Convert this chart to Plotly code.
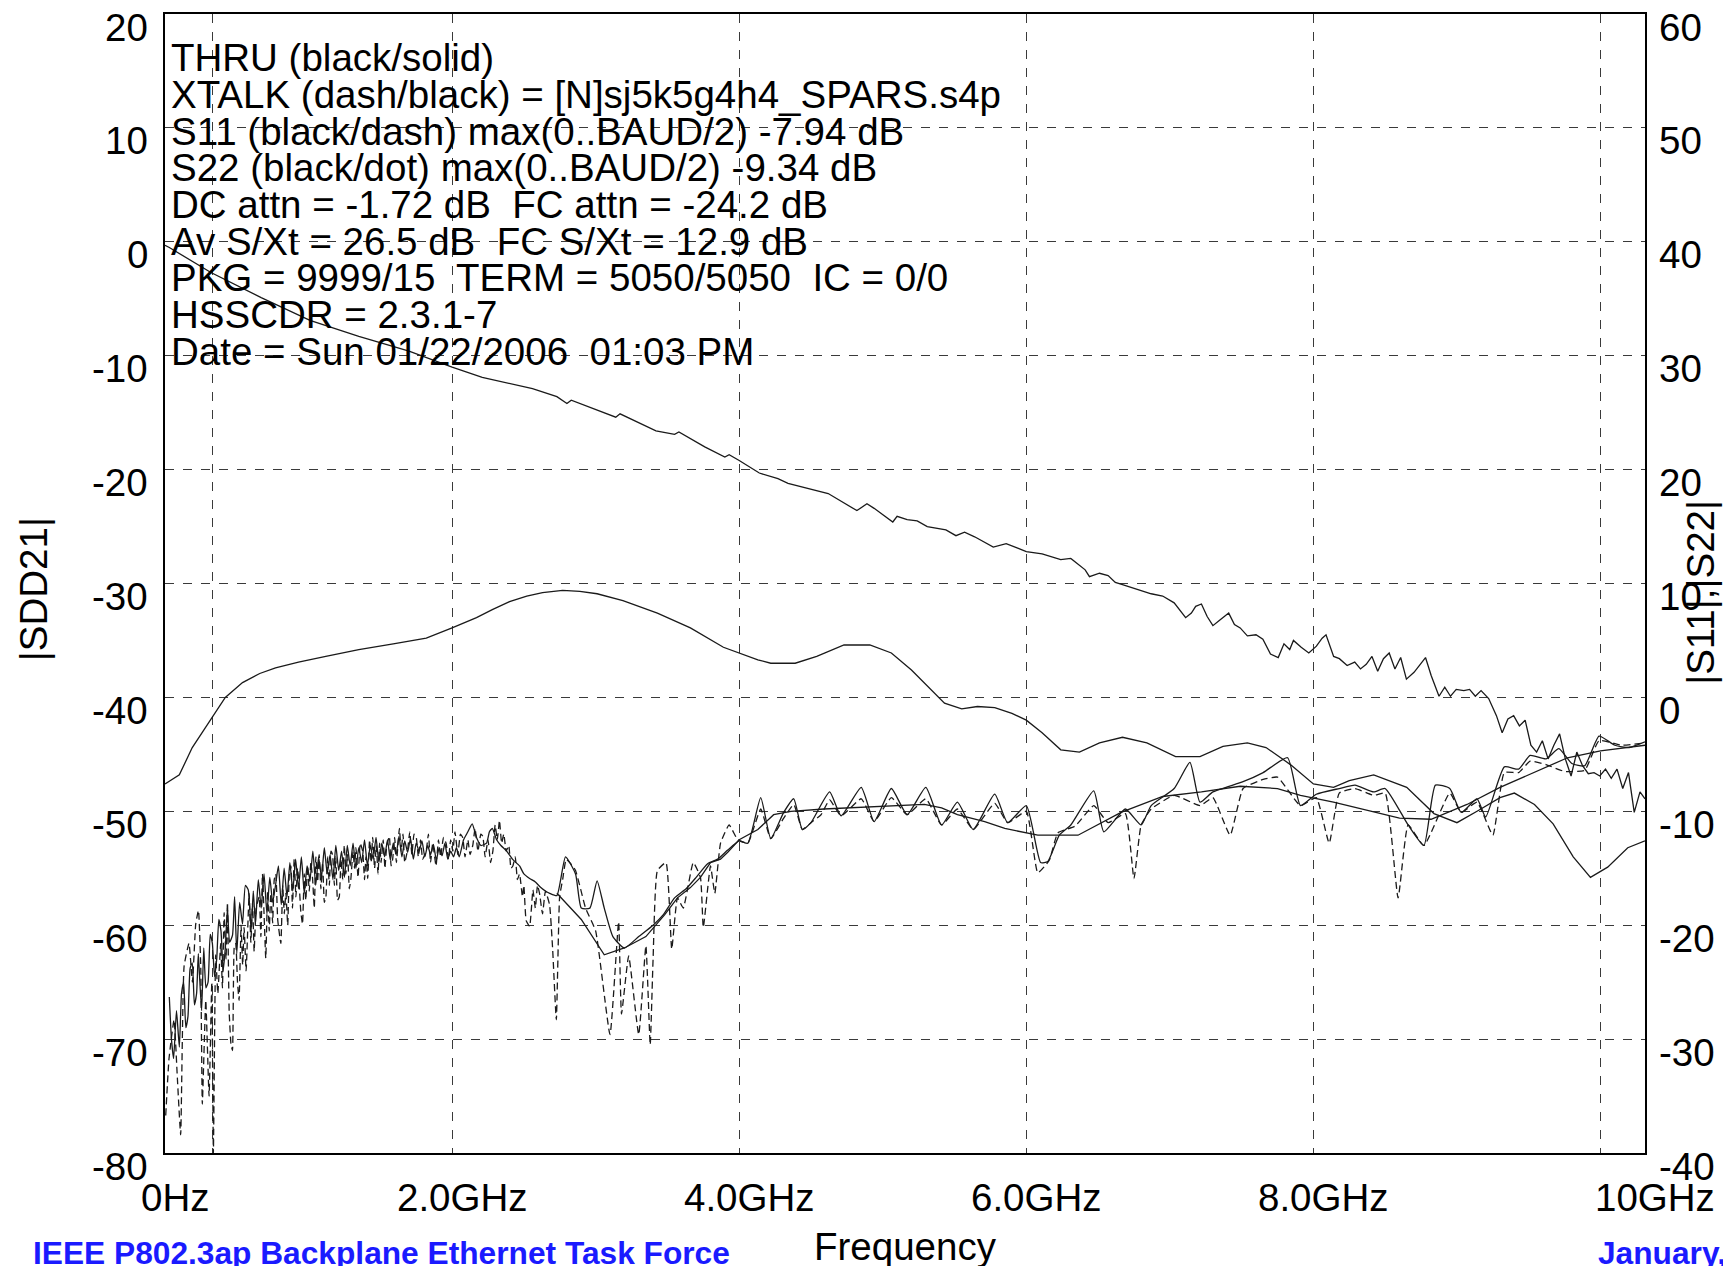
import plotly.graph_objects as go

# ---------------- data (GHz, dB) ----------------
thru_f = [0.0, 0.03, 0.32, 0.67, 1.01, 1.35, 1.70, 2.0, 2.21, 2.56, 2.73, 2.8, 2.83, 3.07, 3.14, 3.17,
          3.42, 3.55, 3.58, 3.76, 3.9, 3.93, 4.0, 4.14, 4.27, 4.34, 4.62, 4.82, 4.89, 4.94, 5.07, 5.1,
          5.17, 5.24, 5.31, 5.44, 5.51, 5.57, 5.64, 5.77, 5.86, 5.94, 6.0, 6.11, 6.24, 6.31, 6.41, 6.44,
          6.51, 6.57, 6.62, 6.67, 6.74, 6.87, 6.95, 7.03, 7.11, 7.15, 7.18, 7.22, 7.26, 7.3, 7.34, 7.38,
          7.41, 7.45, 7.49, 7.54, 7.6, 7.648, 7.701, 7.755, 7.795, 7.835, 7.861, 7.915, 7.968, 8.021,
          8.061, 8.088, 8.141, 8.181, 8.235, 8.288, 8.328, 8.368, 8.408, 8.448, 8.488, 8.528, 8.568,
          8.608, 8.648, 8.701, 8.741, 8.781, 8.821, 8.875, 8.915, 8.955, 8.995, 9.048, 9.088, 9.128,
          9.168, 9.221, 9.275, 9.315, 9.355, 9.395, 9.435, 9.475, 9.515, 9.555, 9.595, 9.635, 9.675,
          9.715, 9.755, 9.795, 9.835, 9.875, 9.915, 9.955, 9.995, 10.035, 10.075, 10.115, 10.155,
          10.195, 10.235, 10.275, 10.31]
thru_db = [-0.3, -0.5, -2.7, -4.9, -6.9, -8.3, -9.6, -11.0, -11.9, -12.9, -13.6, -14.2, -13.9, -15.1, -15.4, -15.1,
           -16.6, -16.9, -16.7, -18.0, -18.9, -18.7, -19.2, -20.3, -20.8, -21.2, -22.1, -23.6, -23.0, -23.4, -24.6, -24.1,
           -24.4, -24.5, -25.0, -25.3, -25.8, -25.5, -25.9, -26.8, -26.5, -26.9, -27.2, -27.4, -27.9, -27.8, -28.8, -29.4,
           -29.1, -29.3, -29.9, -30.1, -30.4, -30.9, -31.1, -31.7, -33.0, -32.6, -32.0, -31.8, -32.9, -33.7, -33.3, -32.9,
           -32.6, -33.6, -33.9, -34.6, -34.5, -34.9, -36.2, -36.5, -35.3, -35.8, -35.0, -35.6, -36.1, -35.5,
           -34.8, -34.5, -36.4, -36.6, -37.2, -36.9, -37.5, -37.1, -36.4, -37.7, -36.6, -36.1, -37.5,
           -36.5, -38.4, -37.8, -37.2, -36.5, -38.1, -39.9, -39.1, -39.9, -39.3, -39.4, -39.3, -39.9,
           -39.4, -40.1, -41.6, -43.1, -41.9, -41.6, -42.5, -42.0, -44.2, -44.8, -43.8, -45.4, -44.2,
           -43.2, -45.4, -46.9, -44.8, -46.0, -46.7, -46.6, -46.9, -46.3, -47.1, -46.3, -48.0,
           -46.6, -50.1, -48.3, -48.9]

smooth_f = [0.0, 0.1, 0.19, 0.31, 0.42, 0.54, 0.66, 0.77, 0.93, 1.12, 1.35, 1.59, 1.82, 2.0, 2.17, 2.28,
            2.4, 2.52, 2.63, 2.77, 2.89, 3.01, 3.19, 3.43, 3.66, 3.89, 4.0, 4.13, 4.22, 4.39, 4.54,
            4.73, 4.91, 5.06, 5.2, 5.34, 5.43, 5.55, 5.66, 5.78, 5.9, 6.0, 6.11, 6.24, 6.37, 6.51,
            6.67, 6.84, 7.04, 7.21, 7.37, 7.54, 7.67, 7.84, 8.0, 8.14, 8.25, 8.42, 8.65, 8.84, 9.0,
            9.14, 9.3, 9.4, 9.54, 9.67, 9.81, 9.93, 10.05, 10.19, 10.31]
smooth_db = [-47.6, -46.8, -44.4, -42.1, -40.0, -38.7, -37.9, -37.4, -36.9, -36.4, -35.8, -35.3, -34.8, -33.9, -33.0, -32.3,
             -31.6, -31.1, -30.8, -30.6, -30.7, -30.9, -31.5, -32.6, -33.9, -35.6, -36.1, -36.7, -37.0, -37.0, -36.4,
             -35.4, -35.4, -36.1, -37.6, -39.4, -40.5, -41.0, -40.8, -40.9, -41.4, -42.0, -43.1, -44.6, -44.8, -44.0,
             -43.5, -44.0, -45.2, -45.2, -44.3, -44.0, -44.4, -45.9, -47.6, -47.9, -47.3, -46.8, -47.9, -50.2, -51.0,
             -50.0, -48.8, -48.4, -49.4, -51.1, -54.0, -55.8, -54.9, -53.2, -52.6]

xtalk_f = [0.005, 0.028, 0.063, 0.086, 0.109, 0.133, 0.167, 0.191, 0.214, 0.233, 0.249, 0.26, 0.284, 0.307,
           0.326, 0.337, 0.353, 0.368, 0.388, 0.40, 0.412, 0.425, 0.435, 0.447, 0.46, 0.47, 0.482, 0.493,
           0.505, 0.516, 0.53, 0.541, 0.551, 0.565, 0.586, 0.598, 0.61, 0.621, 0.635, 0.656, 0.668, 0.679,
           0.69, 0.702, 0.715, 0.726, 0.737, 0.75, 0.761, 0.772, 0.785, 0.807, 0.82, 0.831, 0.842, 0.855,
           0.866, 0.877, 0.888, 0.9, 0.912, 0.923, 0.935, 0.946, 0.958, 0.97, 0.981, 0.993, 1.005, 1.016,
           1.028, 1.04, 1.051, 1.063, 1.074, 1.086, 1.098, 1.11, 1.121, 1.133, 1.145, 1.156, 1.167, 1.18,
           1.19, 1.202, 1.214, 1.226, 1.238, 1.249, 1.26, 1.272, 1.284, 1.295, 1.31, 1.32, 1.33, 1.345,
           1.36, 1.377, 1.39, 1.40, 1.412, 1.425, 1.436, 1.447, 1.46, 1.472, 1.484, 1.495, 1.505, 1.52,
           1.532, 1.545, 1.563, 1.575, 1.586, 1.6, 1.612, 1.633, 1.645, 1.658, 1.67, 1.691, 1.705, 1.72,
           1.735, 1.749, 1.765, 1.78, 1.795, 1.819, 1.835, 1.85, 1.865, 1.888, 1.905, 1.92, 1.94, 1.958,
           1.975, 1.99, 2.005, 2.02, 2.04, 2.058, 2.074, 2.09, 2.11, 2.125, 2.144, 2.16, 2.18, 2.2, 2.214,
           2.23, 2.25, 2.268, 2.284, 2.3, 2.315, 2.33, 2.345, 2.36, 2.377, 2.395, 2.41, 2.423, 2.44, 2.455,
           2.47, 2.49, 2.5, 2.516, 2.54, 2.563, 2.58, 2.595, 2.609, 2.63, 2.65, 2.679, 2.7, 2.726, 2.749,
           2.77, 2.795, 2.82, 2.86, 2.93, 3.0, 3.1, 3.16, 3.18, 3.23, 3.3, 3.35,
           3.38, 3.4, 3.43, 3.49, 3.53, 3.57, 3.61, 3.68, 3.73, 3.75, 3.8, 3.83, 3.87, 3.93, 3.99, 4.06,
           4.15, 4.22, 4.31, 4.38, 4.44, 4.5, 4.57, 4.63, 4.71, 4.85, 4.94, 5.06, 5.17, 5.3, 5.41, 5.52,
           5.63, 5.78, 5.87, 6.0, 6.08, 6.16, 6.22, 6.34, 6.47, 6.57, 6.69, 6.75, 6.8, 6.87, 7.03, 7.21,
           7.3, 7.42, 7.51, 7.65, 7.75, 7.91, 8.02, 8.11, 8.18, 8.29, 8.42, 8.5, 8.59, 8.66, 8.77, 8.95,
           9.03, 9.14, 9.25, 9.33, 9.43, 9.51, 9.62, 9.75, 9.89, 9.99, 10.15, 10.31]
xtalk_db = [-76.7, -71.7, -68.3, -73.4, -78.4, -63.6, -61.6, -65.0, -59.9, -58.7, -63.6, -75.7, -66.6, -75.0,
            -65.0, -80.0, -62.6, -66.0, -61.6, -65.5, -58.9, -63.0, -58.0, -67.6, -70.5, -71.0, -62.0, -61.6,
            -65.0, -66.6, -60.0, -63.5, -60.2, -64.0, -57.2, -61.5, -58.0, -62.3, -58.5, -57.5, -61.0, -55.5,
            -59.0, -62.9, -57.0, -60.5, -57.2, -59.8, -56.0, -55.5, -59.5, -61.6, -56.5, -59.0, -57.2, -60.0,
            -55.5, -54.8, -58.5, -54.2, -57.5, -55.0, -56.5, -58.8, -59.9, -55.5, -57.8, -54.8, -57.0, -54.5,
            -55.9, -58.5, -54.0, -56.2, -53.8, -56.8, -54.5, -58.0, -57.5, -54.0, -56.5, -53.5, -53.8, -56.5,
            -54.0, -57.8, -57.5, -54.2, -56.0, -53.0, -55.5, -53.8, -56.8, -55.9, -53.5, -55.0, -53.2, -55.8,
            -52.8, -53.5, -56.0, -54.0, -55.9, -52.5, -54.5, -52.3, -55.0, -53.0, -55.5, -52.8, -54.5, -52.5,
            -55.0, -53.0, -52.2, -54.8, -54.2, -52.3, -54.5, -51.5, -53.5, -52.0, -54.5, -53.3, -51.8, -53.8,
            -52.0, -52.2, -54.0, -52.5, -54.2, -53.5, -52.0, -54.5, -52.8, -54.8, -52.5, -54.0, -52.3, -52.8,
            -54.2, -52.5, -53.5, -51.8, -53.8, -52.0, -52.3, -54.0, -52.5, -53.8, -53.0, -51.5, -53.5, -52.0, -52.2,
            -54.0, -52.5, -54.5, -53.5, -51.2, -52.5, -50.8, -52.8, -52.0, -53.5, -53.0, -55.0, -54.8, -54.0, -56.0,
            -55.5, -57.5, -56.5, -59.6, -60.1, -56.9, -58.5, -56.5, -57.2, -59.0, -57.0, -58.2, -62.0, -68.3, -57.5,
            -56.0, -54.2, -54.5, -55.2, -58.5, -60.5, -69.6, -59.7, -67.8, -62.7, -69.6, -61.8,
            -70.5, -63.0, -55.2, -54.5, -62.1, -57.6, -58.5, -54.5, -55.8, -60.2, -54.8, -57.2, -52.8, -51.2, -52.5, -52.8,
            -49.8, -52.4, -50.6, -49.4, -51.6, -51.0, -50.3, -49.0, -50.4, -48.9, -50.9, -48.8, -50.3, -48.9, -51.2, -49.8,
            -51.6, -49.3, -51.0, -50.0, -55.4, -54.3, -51.9, -51.3, -49.5, -51.0, -50.2, -55.9, -51.2, -49.8, -48.6, -49.5,
            -48.8, -52.1, -48.0, -47.2, -47.0, -49.5, -48.8, -52.8, -48.4, -48.0, -48.6, -48.4, -57.6, -51.2, -53.0, -48.4,
            -50.1, -49.2, -52.1, -46.6, -46.6, -45.6, -45.9, -46.5, -46.4, -43.8, -44.2, -44.0]

# S11 / S22 on the right axis (dB)
s11_f = [0.03, 0.045, 0.06, 0.08, 0.1, 0.115, 0.13, 0.145, 0.16, 0.175, 0.19, 0.205, 0.22, 0.232, 0.24, 0.255,
         0.27, 0.285, 0.3, 0.315, 0.33, 0.345, 0.36, 0.375, 0.39, 0.405, 0.42, 0.435, 0.45, 0.47, 0.485, 0.5,
         0.52, 0.54, 0.56, 0.58, 0.6, 0.615, 0.63, 0.65, 0.67, 0.69, 0.71, 0.73, 0.75, 0.77, 0.79, 0.81,
         0.83, 0.85, 0.87, 0.89, 0.91, 0.93, 0.95, 0.97, 0.99, 1.01, 1.03, 1.05, 1.07, 1.09, 1.11, 1.13,
         1.15, 1.17, 1.19, 1.21, 1.23, 1.25, 1.27, 1.29, 1.31, 1.33, 1.35, 1.37, 1.39, 1.41, 1.43, 1.45,
         1.47, 1.49, 1.51, 1.53, 1.55, 1.57, 1.59, 1.61, 1.63, 1.65, 1.67, 1.69, 1.71, 1.73, 1.75, 1.77,
         1.79, 1.81, 1.83, 1.85, 1.87, 1.89, 1.91, 1.93, 1.95, 1.97, 1.99, 2.01, 2.03, 2.05, 2.08, 2.11,
         2.14, 2.17, 2.2, 2.24, 2.26, 2.28, 2.31, 2.34, 2.38, 2.42, 2.47, 2.5, 2.54, 2.58, 2.61, 2.65,
         2.68, 2.73, 2.79, 2.86, 2.9, 2.96, 3.01, 3.06,
         3.12, 3.2, 3.3, 3.4, 3.47, 3.55, 3.63, 3.7, 3.78, 3.85, 3.92, 4.0, 4.06, 4.15, 4.22, 4.31, 4.38,
         4.44, 4.5, 4.63, 4.71, 4.85, 4.94, 5.06, 5.17, 5.3, 5.41, 5.52, 5.63, 5.78, 5.87, 6.0, 6.1,
         6.15, 6.23, 6.31, 6.47, 6.54, 6.69, 6.8, 6.87, 7.03, 7.14, 7.21, 7.3, 7.51, 7.65, 7.82, 7.91,
         8.02, 8.18, 8.29, 8.42, 8.5, 8.66, 8.77, 8.85, 8.95, 9.03, 9.14, 9.2, 9.33, 9.43, 9.51, 9.62,
         9.71, 9.8, 9.89, 9.99, 10.1, 10.2, 10.31]
s11_db = [-26.3, -30.0, -31.7, -27.5, -30.7, -26.0, -25.0, -29.0, -28.0, -23.8, -23.3, -27.0, -26.0, -22.5, -24.3, -27.5,
          -22.0, -25.5, -25.0, -20.8, -21.6, -24.5, -23.0, -19.5, -20.5, -24.0, -22.0, -18.5, -21.5, -20.9, -17.5, -22.5,
          -18.0, -19.9, -16.5, -16.9, -20.5, -17.0, -19.9, -16.0, -18.5, -15.5, -19.0, -15.8, -18.0, -16.5, -14.8, -18.2,
          -15.0, -17.5, -14.5, -17.0, -14.2, -16.8, -14.0, -17.2, -14.8, -16.0, -13.5, -16.5, -14.0, -15.8, -13.2, -15.5,
          -13.8, -16.0, -13.0, -15.2, -13.5, -15.8, -13.0, -14.8, -12.8, -15.0, -13.2, -14.5, -12.5, -14.8, -13.0, -14.2,
          -12.3, -14.5, -12.8, -14.0, -12.5, -14.3, -12.8, -13.8, -12.2, -14.0, -12.6, -13.6, -12.4, -14.2, -12.8, -13.5,
          -12.6, -14.0, -13.0, -13.8, -12.9, -14.3, -13.2, -13.9, -12.8, -14.2, -13.5, -14.0, -13.2, -14.0, -12.5, -11.8,
          -11.1, -12.3, -13.0, -12.8, -11.8, -11.5, -12.5, -13.0, -13.5, -14.2, -14.8, -15.5, -15.9, -16.2, -16.6, -17.0,
          -17.2, -17.4, -14.0, -15.5, -18.5, -18.5, -16.1, -18.5,
          -21.0, -22.0, -21.0, -20.0, -19.1, -17.6, -16.8, -15.8, -14.6, -14.2, -13.4, -12.6, -12.8, -8.8, -12.4, -10.1, -8.9,
          -11.6, -11.0, -8.3, -10.4, -7.9, -10.9, -8.0, -10.3, -7.9, -11.2, -9.2, -11.6, -8.5, -11.0, -9.5, -14.5,
          -14.4, -12.1, -11.2, -8.2, -11.8, -9.8, -11.2, -9.5, -8.0, -5.7, -9.2, -8.3, -7.4, -6.6, -5.3, -9.5,
          -8.5, -8.0, -7.7, -8.3, -8.0, -11.2, -13.0, -7.7, -8.0, -10.1, -8.9, -10.5, -6.1, -6.3, -5.1, -5.4,
          -4.5, -5.8, -6.0, -3.4, -4.2, -4.4, -3.9]

s22_f = [2.73, 2.9, 3.06, 3.2, 3.35, 3.48, 3.57, 3.66, 3.73, 3.8, 3.87, 3.92, 4.0, 4.13, 4.24, 4.36, 4.59,
         5.06, 5.29, 5.41, 5.52, 5.71, 5.85, 6.08, 6.36, 6.66, 6.95, 7.22, 7.49, 7.75, 7.91, 8.14, 8.37,
         8.6, 8.82, 9.07, 9.3, 9.54, 9.77, 10.0, 10.31]
s22_db = [-17.2, -19.5, -22.6, -22.0, -21.0, -19.1, -17.6, -16.7, -15.8, -14.5, -14.2, -13.6, -12.5, -11.6, -10.3, -10.0, -9.8,
          -9.5, -9.4, -9.7, -10.3, -10.9, -11.5, -12.1, -12.1, -10.1, -8.7, -8.3, -7.8, -8.0, -8.6, -9.2, -9.9,
          -10.6, -10.7, -9.4, -7.9, -6.6, -5.3, -4.7, -4.2]

# axis ticks
x_label_vals = [0, 2, 4, 6, 8, 10.31]
x_label_text = ["0Hz", "2.0GHz", "4.0GHz", "6.0GHz", "8.0GHz", "10GHz"]
x_grid_vals = [0.33, 2, 4, 6, 8, 10]
y_left_vals = [-80, -70, -60, -50, -40, -30, -20, -10, 0, 10, 20]
y_left_text = ["-80", "-70", "-60", "-50", "-40", "-30", "-20", "-10", "0", "10", "20"]
y_right_vals = [-40, -30, -20, -10, 0, 10, 20, 30, 40, 50, 60]
y_right_text = ["-40", "-30", "-20", "-10", "0", "10", "20", "30", "40", "50", "60"]

legend_lines = [
    "THRU (black/solid)",
    "XTALK (dash/black) = [N]sj5k5g4h4_SPARS.s4p",
    "S11 (black/dash) max(0..BAUD/2) -7.94 dB",
    "S22 (black/dot) max(0..BAUD/2) -9.34 dB",
    "DC attn = -1.72 dB  FC attn = -24.2 dB",
    "Av S/Xt = 26.5 dB  FC S/Xt = 12.9 dB",
    "PKG = 9999/15  TERM = 5050/5050  IC = 0/0",
    "HSSCDR = 2.3.1-7",
    "Date = Sun 01/22/2006  01:03 PM",
]

FONT = "Liberation Sans, Arial, sans-serif"
LINE = "#1a1a1a"
FS = 38.5
PLOT_H = 1141.0

fig = go.Figure()
fig.add_trace(go.Scatter(x=smooth_f, y=smooth_db, mode="lines", line=dict(color=LINE, width=1.3), yaxis="y"))
fig.add_trace(go.Scatter(x=xtalk_f, y=xtalk_db, mode="lines",
                         line=dict(color=LINE, width=1.3, dash="7px,4px", shape="spline", smoothing=0.4), yaxis="y"))
fig.add_trace(go.Scatter(x=s22_f, y=s22_db, mode="lines", line=dict(color=LINE, width=1.3), yaxis="y2"))
fig.add_trace(go.Scatter(x=s11_f, y=s11_db, mode="lines",
                         line=dict(color=LINE, width=1.3, shape="spline", smoothing=0.5), yaxis="y2"))
fig.add_trace(go.Scatter(x=thru_f, y=thru_db, mode="lines", line=dict(color=LINE, width=1.3), yaxis="y"))

grid = dict(showgrid=True, griddash="dash", gridcolor="#3a3a3a", gridwidth=1.3)

fig.update_layout(
    width=1723, height=1266,
    margin=dict(l=165, r=78, t=12, b=113),
    paper_bgcolor="white", plot_bgcolor="white",
    showlegend=False,
    font=dict(family=FONT, size=FS, color="black"),
    xaxis=dict(range=[0, 10.31], showticklabels=False, showgrid=False,
               ticks="", showline=True, mirror=True, linecolor="black", linewidth=2,
               zeroline=False, minor=dict(tickvals=x_grid_vals, ticks="", **grid)),
    yaxis=dict(range=[-80, 20], tickvals=y_left_vals, showticklabels=False, ticks="", showline=True,
               mirror=True, linecolor="black", linewidth=2, zeroline=False, **grid),
    yaxis2=dict(range=[-40, 60], tickvals=y_right_vals, overlaying="y", side="right", ticks="",
                showticklabels=False, showgrid=False, zeroline=False, showline=False),
)

# tick labels
for v, t in zip(x_label_vals, x_label_text):
    fig.add_annotation(x=v, y=0, xref="x", yref="paper", text=t, showarrow=False,
                       xanchor="center", yanchor="middle", xshift=10, yshift=-44,
                       font=dict(family=FONT, size=FS))
for v, t in zip(y_left_vals, y_left_text):
    fig.add_annotation(x=0, y=v, xref="paper", yref="y", text=t, showarrow=False,
                       xanchor="right", yanchor="middle", xshift=-15, yshift=-13,
                       font=dict(family=FONT, size=FS))
for v, t in zip(y_right_vals, y_right_text):
    fig.add_annotation(x=1, y=v, xref="paper", yref="y2", text=t, showarrow=False,
                       xanchor="left", yanchor="middle", xshift=12, yshift=-13,
                       font=dict(family=FONT, size=FS))

# legend block text (one annotation per line)
for i, t in enumerate(legend_lines):
    fig.add_annotation(x=0.003, y=1 - (44 + 36.7 * i) / PLOT_H, xref="paper", yref="paper",
                       text=t, showarrow=False, xanchor="left", yanchor="middle",
                       font=dict(family=FONT, size=FS, color="black"))

fig.add_annotation(x=-0.0892, y=0.495, xref="paper", yref="paper", text="|SDD21|", textangle=-90,
                   showarrow=False, xanchor="center", yanchor="middle", font=dict(family=FONT, size=FS))
fig.add_annotation(x=1.0378, y=0.4926, xref="paper", yref="paper", text="|S11|,|S22|", textangle=-90,
                   showarrow=False, xanchor="center", yanchor="middle", font=dict(family=FONT, size=FS))
fig.add_annotation(x=0.5, y=-0.0825, xref="paper", yref="paper", text="Frequency", showarrow=False,
                   xanchor="center", yanchor="middle", font=dict(family=FONT, size=FS))
fig.add_annotation(x=-0.0905, y=-0.0705, xref="paper", yref="paper", xanchor="left", yanchor="top",
                   text="<b>IEEE P802.3ap Backplane Ethernet Task Force</b>", showarrow=False,
                   font=dict(family=FONT, size=31.7, color="#1a1aff"))
fig.add_annotation(x=0.967, y=-0.0705, xref="paper", yref="paper", xanchor="left", yanchor="top",
                   text="<b>January,</b>", showarrow=False,
                   font=dict(family=FONT, size=31.7, color="#1a1aff"))

fig.write_html("out.html", config={"displayModeBar": False},
               post_script="document.body.style.margin='0px';")
